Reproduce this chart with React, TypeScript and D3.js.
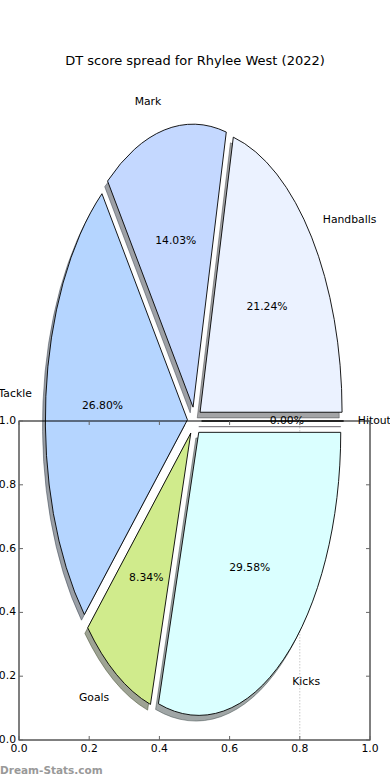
import React from 'react';
import * as d3 from 'd3';

// DT score spread, share of points by stat (percent)
const categories = ['Handballs', 'Mark', 'Tackle', 'Goals', 'Kicks', 'Hitout'];
const shares = [21.24, 14.03, 26.8, 8.34, 29.58, 0.0];
const wedgeColors = ['#ebf2ff', '#c4d8ff', '#b5d5ff', '#d0eb8c', '#daffff', '#f0e0ff'];
const axisTicks = [0, 0.2, 0.4, 0.6, 0.8, 1.0];

const W = 390;
const H = 780;
const font = 'DejaVu Sans, sans-serif';
const fs = 10.8;

export default function App() {
  // axes frame behind the pie
  const x = d3.scaleLinear().domain([0, 1]).range([19, 370]);
  const y = d3.scaleLinear().domain([0, 1]).range([740, 421]);

  // pie is stretched: its own radii in px
  const cx = x(0.5);
  const cy = y(1);
  const rx = 142;
  const ry = 283;
  const explode = 0.05;
  const shadowOff = { dx: -0.02 * rx, dy: 0.02 * ry };

  const arcs = d3
    .pie<number>()
    .sort(null)
    .startAngle(Math.PI / 2)
    .endAngle(Math.PI / 2 - 2 * Math.PI)(shares);

  const arc = d3.arc<any>().innerRadius(0).outerRadius(1);
  const fmt = d3.format('.2f');

  const wedges = arcs.map((a, i) => {
    const mid = (a.startAngle + a.endAngle) / 2;
    const ux = Math.sin(mid);
    const uy = -Math.cos(mid);
    const ox = cx + explode * rx * ux;
    const oy = cy + explode * ry * uy;
    const rgb = d3.rgb(wedgeColors[i]);
    const shade = `rgba(${Math.round(rgb.r * 0.3)},${Math.round(rgb.g * 0.3)},${Math.round(rgb.b * 0.3)},0.5)`;
    return {
      d: arc({ startAngle: a.startAngle, endAngle: a.endAngle }) as string,
      ox,
      oy,
      shade,
      fill: wedgeColors[i],
      label: categories[i],
      lx: ox + 1.1 * rx * ux,
      ly: oy + 1.1 * ry * uy,
      anchor: ux > 0 ? 'start' : 'end',
      px: ox + 0.6 * rx * ux,
      py: oy + 0.6 * ry * uy,
      pct: fmt(shares[i]) + '%',
    };
  });

  return (
    <svg width={W} height={H} style={{ position: 'absolute', left: 0, top: 0, background: '#fff' }} fontFamily={font}>
      <text x={W / 2} y={61} fontSize={13} textAnchor="middle" dominantBaseline="middle">
        DT score spread for Rhylee West (2022)
      </text>

      {/* stray grid line */}
      <line x1={x(0.8)} x2={x(0.8)} y1={y(1)} y2={y(0)} stroke="#c8c8c8" strokeDasharray="1.5,1.5" />

      {/* shadows */}
      {wedges.map((w, i) => (
        <g key={'s' + i} transform={`translate(${w.ox + shadowOff.dx},${w.oy + shadowOff.dy}) scale(${rx},${ry})`}>
          <path d={w.d} fill={w.shade} stroke={w.shade} strokeWidth={1} vectorEffect="non-scaling-stroke" />
        </g>
      ))}

      {/* wedges */}
      {wedges.map((w, i) => (
        <g key={'w' + i} transform={`translate(${w.ox},${w.oy}) scale(${rx},${ry})`}>
          <path d={w.d} fill={w.fill} stroke="#000" strokeWidth={0.9} strokeLinejoin="round" vectorEffect="non-scaling-stroke" />
        </g>
      ))}

      {/* labels */}
      {wedges.map((w, i) => (
        <g key={'l' + i} fontSize={fs}>
          <text x={w.lx} y={w.ly} textAnchor={w.anchor} dominantBaseline="middle">
            {w.label}
          </text>
          <text x={w.px} y={w.py} textAnchor="middle" dominantBaseline="middle">
            {w.pct}
          </text>
        </g>
      ))}

      {/* axes frame */}
      <rect x={x(0)} y={y(1)} width={x(1) - x(0)} height={y(0) - y(1)} fill="none" stroke="#000" strokeWidth={1} />
      {axisTicks.map((t) => (
        <g key={'t' + t} stroke="#666" strokeWidth={1}>
          <line x1={x(t)} x2={x(t)} y1={y(0)} y2={y(0) - 4} />
          <line x1={x(t)} x2={x(t)} y1={y(1)} y2={y(1) + 4} />
          <line x1={x(0)} x2={x(0) + 4} y1={y(t)} y2={y(t)} />
          <line x1={x(1)} x2={x(1) - 4} y1={y(t)} y2={y(t)} />
        </g>
      ))}
      {axisTicks.map((t) => (
        <text key={'xl' + t} x={x(t)} y={y(0) + 9} fontSize={fs} textAnchor="middle" dominantBaseline="middle">
          {d3.format('.1f')(t)}
        </text>
      ))}
      {axisTicks.map((t) => (
        <text key={'yl' + t} x={x(0) - 3} y={y(t)} fontSize={fs} textAnchor="end" dominantBaseline="middle">
          {d3.format('.1f')(t)}
        </text>
      ))}

      <text x={0} y={771} fontSize={10.5} fontWeight="bold" fill="#999" dominantBaseline="middle">
        Dream-Stats.com
      </text>
    </svg>
  );
}
